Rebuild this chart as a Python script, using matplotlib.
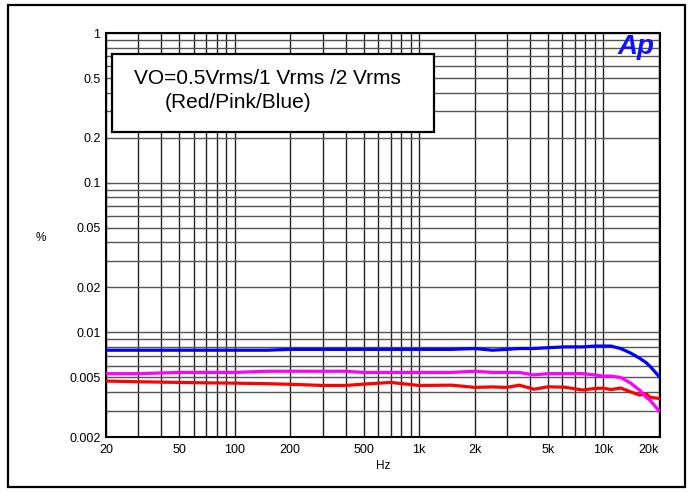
import matplotlib
matplotlib.use("Agg")
import matplotlib.pyplot as plt
from matplotlib.patches import Rectangle
from matplotlib.ticker import FixedLocator, NullFormatter

plt.rcParams['font.family'] = ['Liberation Sans', 'DejaVu Sans']

freq = [20, 30, 50, 70, 100, 150, 200, 300, 400, 500, 700, 1000, 1500, 2000, 2500,
        3000, 3500, 4200, 5000, 6200, 7700, 9000, 10000, 11000, 12400, 14000, 15800,
        17000, 18000, 20000]
blue = [0.0076, 0.0076, 0.0076, 0.0076, 0.0076, 0.0076, 0.0077, 0.0077, 0.0077, 0.0077,
        0.0077, 0.0077, 0.0077, 0.0078, 0.0076, 0.0077, 0.0078, 0.0078, 0.0079, 0.0080,
        0.0080, 0.0081, 0.0081, 0.0081, 0.0078, 0.0073, 0.0067, 0.0063, 0.0059, 0.0051]
pink = [0.0053, 0.0053, 0.0054, 0.0054, 0.0054, 0.0055, 0.0055, 0.0055, 0.0055, 0.0054,
        0.0054, 0.0054, 0.0054, 0.0055, 0.0054, 0.0054, 0.0054, 0.0052, 0.0053, 0.0053,
        0.0053, 0.0052, 0.0051, 0.0051, 0.0050, 0.0046, 0.0041, 0.0037, 0.0035, 0.0030]
red = [0.00473, 0.00468, 0.00463, 0.0046, 0.00458, 0.00454, 0.0045, 0.00442, 0.00442,
       0.00451, 0.00463, 0.00442, 0.00444, 0.00429, 0.00432, 0.00429, 0.00444, 0.00417,
       0.00433, 0.0043, 0.00412, 0.00422, 0.00424, 0.00415, 0.00425, 0.00401, 0.00381,
       0.0039, 0.00368, 0.00362]

x_ticks = [20, 50, 100, 200, 500, 1000, 2000, 5000, 10000, 20000]
x_labels = ['20', '50', '100', '200', '500', '1k', '2k', '5k', '10k', '20k']
y_ticks = [0.002, 0.005, 0.01, 0.02, 0.05, 0.1, 0.2, 0.5, 1]
y_labels = ['0.002', '0.005', '0.01', '0.02', '0.05', '0.1', '0.2', '0.5', '1']

W, H = 693, 492
fig = plt.figure(figsize=(W / 100, H / 100), dpi=100)
ax = fig.add_axes([106 / W, 1 - 437 / H, (660 - 106) / W, (437 - 33) / H])
ax.set_xscale('log')
ax.set_yscale('log')
ax.set_xlim(20, 20300)
ax.set_ylim(0.002, 1)

ax.plot(freq, red, color='#ff0000', lw=2.3, zorder=3)
ax.plot(freq, pink, color='#ff00ff', lw=2.3, zorder=3)
ax.plot(freq, blue, color='#0000ff', lw=2.3, zorder=3)

xminor = [m * 10 ** e for e in range(1, 5) for m in range(1, 10) if 20 <= m * 10 ** e <= 20000]
yminor = [m * 10.0 ** e for e in range(-3, 1) for m in range(1, 10) if 0.002 <= m * 10.0 ** e <= 1]
ax.xaxis.set_major_locator(FixedLocator(x_ticks))
ax.xaxis.set_minor_locator(FixedLocator(xminor))
ax.yaxis.set_major_locator(FixedLocator(y_ticks))
ax.yaxis.set_minor_locator(FixedLocator(yminor))
ax.set_xticklabels(x_labels)
ax.set_yticklabels(y_labels)
ax.xaxis.set_minor_formatter(NullFormatter())
ax.yaxis.set_minor_formatter(NullFormatter())
ax.tick_params(which='both', length=0, labelsize=9, pad=4, colors='black')
ax.tick_params(axis='x', pad=5)
for lab in ax.get_xticklabels():
    if lab.get_text() == '20k':
        lab.set_ha('right')

ax.grid(True, which='both', axis='x', color='#222222', lw=1.0)
ax.grid(True, which='both', axis='y', color='#555555', lw=1.0)
for sp in ax.spines.values():
    sp.set_linewidth(1.5)
    sp.set_color('black')

def px(x, y):
    return (x / W, 1 - y / H)

# legend box
bx0, by0 = px(112, 131.5)
fig.add_artist(Rectangle((bx0, by0), (434 - 112) / W, (131.5 - 54) / H,
                         transform=fig.transFigure, facecolor='white',
                         edgecolor='black', lw=1.6, zorder=5))
fig.text(*px(134, 84), 'VO=0.5Vrms/1 Vrms /2 Vrms', fontsize=15, ha='left',
         va='baseline', zorder=6)
fig.text(*px(165, 108), '(Red/Pink/Blue)', fontsize=15, ha='left',
         va='baseline', zorder=6)

# Ap logo
fig.text(*px(618, 54), 'Ap', fontsize=20, fontweight='heavy', fontstyle='italic',
         color='#1010ff', ha='left', va='baseline', zorder=6)

fig.text(*px(41, 238), '%', fontsize=8.5, ha='center', va='center')
fig.text(*px(383, 466), 'Hz', fontsize=8.5, ha='center', va='center')

# outer border
fig.add_artist(Rectangle((8 / W, 1 - 487 / H), (685 - 8) / W, (487 - 5) / H,
                         transform=fig.transFigure, facecolor='none',
                         edgecolor='black', lw=1.6, zorder=7))

fig.savefig('out.png', dpi=100)
